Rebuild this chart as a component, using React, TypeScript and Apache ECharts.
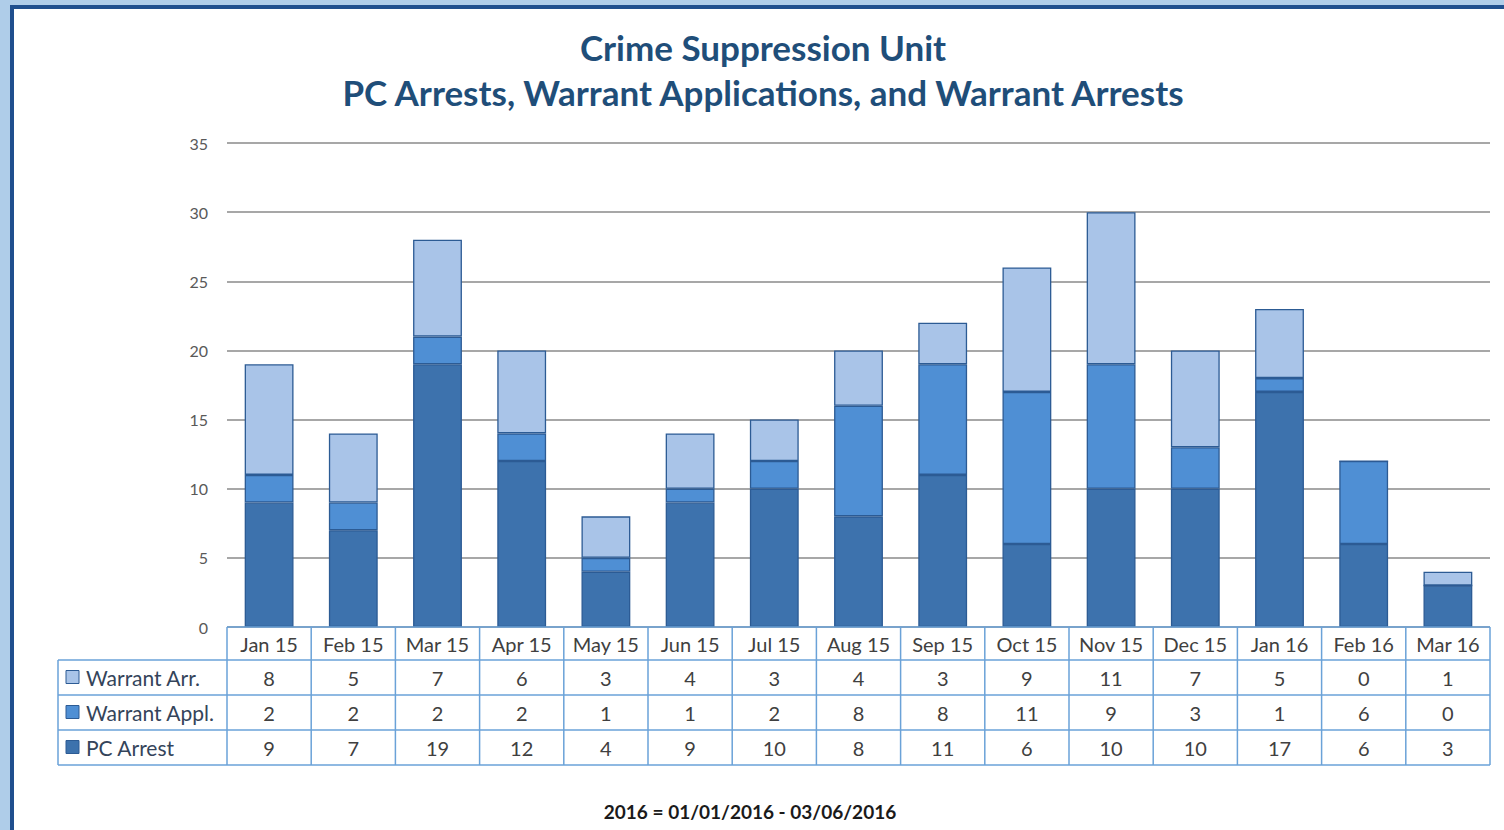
import React, { useEffect, useRef } from "react";
import * as echarts from "echarts";

const months = ["Jan 15", "Feb 15", "Mar 15", "Apr 15", "May 15", "Jun 15", "Jul 15", "Aug 15", "Sep 15", "Oct 15", "Nov 15", "Dec 15", "Jan 16", "Feb 16", "Mar 16"];
const pcArrest = [9, 7, 19, 12, 4, 9, 10, 8, 11, 6, 10, 10, 17, 6, 3];
const warrantAppl = [2, 2, 2, 2, 1, 1, 2, 8, 8, 11, 9, 3, 1, 6, 0];
const warrantArr = [8, 5, 7, 6, 3, 4, 3, 4, 3, 9, 11, 7, 5, 0, 1];
const yTicks = [0, 5, 10, 15, 20, 25, 30, 35];

const titleLines = ["Crime Suppression Unit", "PC Arrests, Warrant Applications, and Warrant Arrests"];
const footnote = "2016 = 01/01/2016 - 03/06/2016";

const C_DARK = "#3d72ad";
const C_MED = "#4f8fd4";
const C_LIGHT = "#a9c4e8";
const C_BORDER = "#2c5b94";
const C_TABLE = "#6aa2d8";
const FONT = "Lato, 'Open Sans', sans-serif";

const tableRows = [
  { name: "Warrant Arr.", color: C_LIGHT, values: warrantArr },
  { name: "Warrant Appl.", color: C_MED, values: warrantAppl },
  { name: "PC Arrest", color: C_DARK, values: pcArrest },
];

export default function App() {
  const ref = useRef<HTMLDivElement>(null);
  useEffect(() => {
    const chart = echarts.init(ref.current!, null, { renderer: "svg" });
    const barStyle = (c: string) => ({ color: c, borderColor: C_BORDER, borderWidth: 1.3 });
    const option: any = {
      animation: false,
      backgroundColor: "#afcde9",
      grid: { left: 227, right: 14, top: 143, bottom: 203 },
      xAxis: {
        type: "category",
        data: months,
        axisLine: { show: false },
        axisTick: { show: false },
        axisLabel: { show: false },
      },
      yAxis: {
        type: "value",
        min: yTicks[0],
        max: yTicks[yTicks.length - 1],
        interval: 5,
        axisLine: { show: false },
        axisTick: { show: false },
        axisLabel: { color: "#595959", fontSize: 16, fontFamily: FONT, margin: 19 },
        splitLine: { lineStyle: { color: "#8a8a8a", width: 1.5 } },
      },
      series: [
        { name: "PC Arrest", type: "bar", stack: "a", data: pcArrest, barWidth: "58%", itemStyle: barStyle(C_DARK) },
        { name: "Warrant Appl.", type: "bar", stack: "a", data: warrantAppl, itemStyle: barStyle(C_MED) },
        { name: "Warrant Arr.", type: "bar", stack: "a", data: warrantArr, itemStyle: barStyle(C_LIGHT) },
      ],
    };
    chart.setOption(option);

    const centers = months.map((_, i) => chart.convertToPixel({ xAxisIndex: 0 }, i) as number);
    const band = centers.length > 1 ? centers[1] - centers[0] : 84;
    const x0 = centers[0] - band / 2;
    const x1 = centers[centers.length - 1] + band / 2;
    const yHead = 627;
    const yRow0 = 660;
    const rowH = 35;
    const legendLeft = 58;
    const yEnd = yRow0 + rowH * tableRows.length;
    const line = (ax: number, ay: number, bx: number, by: number) => ({
      type: "line",
      z: 10,
      shape: { x1: ax, y1: ay, x2: bx, y2: by },
      style: { stroke: C_TABLE, lineWidth: 1.5 },
    });

    const g: any[] = [];
    g.push({ type: "rect", z: -10, shape: { x: 12, y: 7, width: 1504, height: 830 }, style: { fill: "#ffffff" } });
    g.push({ type: "rect", z: -9, shape: { x: 10, y: 5, width: 1494, height: 4 }, style: { fill: "#1f4f8e" } });
    g.push({ type: "rect", z: -9, shape: { x: 10, y: 5, width: 4, height: 830 }, style: { fill: "#1f4f8e" } });
    titleLines.forEach((t, i) => {
      g.push({
        type: "text",
        x: 763,
        y: 47 + i * 45,
        style: { text: t, fill: "#1f4e79", font: `bold 35px ${FONT}`, align: "center", verticalAlign: "middle" },
      });
    });
    g.push(line(x0, yHead, x1, yHead));
    g.push(line(legendLeft, yRow0, x1, yRow0));
    tableRows.forEach((_, r) => g.push(line(legendLeft, yRow0 + rowH * (r + 1), x1, yRow0 + rowH * (r + 1))));
    g.push(line(legendLeft, yRow0, legendLeft, yEnd));
    for (let i = 0; i <= months.length; i++) {
      const x = x0 + band * i;
      g.push(line(x, yHead, x, yEnd));
    }
    months.forEach((m, i) => {
      g.push({
        type: "text",
        z: 11,
        x: centers[i],
        y: (yHead + yRow0) / 2,
        style: { text: m, fill: "#404040", font: `20px ${FONT}`, align: "center", verticalAlign: "middle" },
      });
    });
    tableRows.forEach((row, r) => {
      const cy = yRow0 + rowH * r + rowH / 2;
      g.push({
        type: "rect",
        z: 11,
        shape: { x: 66, y: cy - 7, width: 13, height: 13 },
        style: { fill: row.color, stroke: C_BORDER, lineWidth: 1 },
      });
      g.push({
        type: "text",
        z: 11,
        x: 86,
        y: cy,
        style: { text: row.name, fill: "#34445a", font: `21px ${FONT}`, align: "left", verticalAlign: "middle" },
      });
      row.values.forEach((v, i) => {
        g.push({
          type: "text",
          z: 11,
          x: centers[i],
          y: cy,
          style: { text: String(v), fill: "#404040", font: `20px ${FONT}`, align: "center", verticalAlign: "middle" },
        });
      });
    });
    g.push({
      type: "text",
      x: 750,
      y: 811,
      style: { text: footnote, fill: "#1a1a1a", font: `bold 19px ${FONT}`, align: "center", verticalAlign: "middle" },
    });
    chart.setOption({ graphic: g });
    return () => chart.dispose();
  }, []);
  return <div ref={ref} style={{ position: "absolute", left: 0, top: 0, width: 1504, height: 830 }} />;
}
